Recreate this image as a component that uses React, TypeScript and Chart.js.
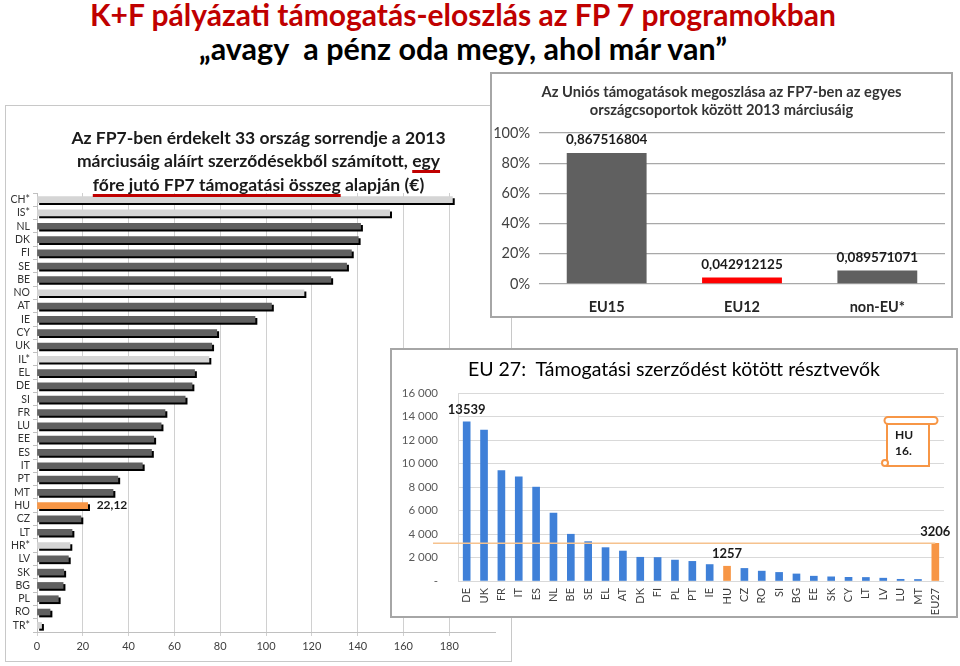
import React, { useEffect, useRef } from 'react';
import { Chart, registerables } from 'chart.js';

Chart.register(...registerables);

const FONT = 'Lato, Carlito, Calibri, "Noto Sans", sans-serif';

// ---- Slide texts ----
const slideTitle = 'K+F pályázati támogatás-eloszlás az FP 7 programokban';
const slideSubtitle = '„avagy  a pénz oda megy, ahol már van”';

// ---- Left chart: FP7 support per capita (€) ----
const perCapitaTitle1 = 'Az FP7-ben érdekelt 33 ország sorrendje a 2013';
const perCapitaTitle2a = 'márciusáig aláírt szerződésekből számított, ';
const perCapitaTitle2b = 'egy';
const perCapitaTitle3a = 'főre jutó FP7 támogatási összeg';
const perCapitaTitle3b = ' alapján (€)';
const perCapitaCountries = ['CH*', 'IS*', 'NL', 'DK', 'FI', 'SE', 'BE', 'NO', 'AT', 'IE', 'CY', 'UK', 'IL*', 'EL', 'DE', 'SI', 'FR', 'LU', 'EE', 'ES', 'IT', 'PT', 'MT', 'HU', 'CZ', 'LT', 'HR*', 'LV', 'SK', 'BG', 'PL', 'RO', 'TR*'];
const perCapitaValues = [181.4, 154.0, 141.3, 140.3, 137.3, 135.2, 128.3, 116.6, 102.4, 95.2, 78.5, 76.3, 75.1, 68.8, 67.7, 64.7, 55.9, 54.2, 51.0, 50.0, 46.0, 35.3, 33.2, 22.12, 19.2, 15.3, 14.4, 13.7, 11.7, 11.4, 9.3, 5.7, 2.0];
const nonEuCountries = ['CH*', 'IS*', 'NO', 'IL*', 'HR*', 'TR*'];
const highlightCountry = 'HU';
const perCapitaAxisMax = 200;
const perCapitaTickMax = 180;
const perCapitaStep = 20;

// ---- Top right chart: share by country group ----
const groupTitle1 = 'Az Uniós támogatások megoszlása az FP7-ben az egyes';
const groupTitle2 = 'országcsoportok között 2013 márciusáig';
const groupLabels = ['EU15', 'EU12', 'non-EU*'];
const groupShares = [0.867516804, 0.042912125, 0.089571071];

// ---- Bottom right chart: participants ----
const participantsTitle = 'EU 27:  Támogatási szerződést kötött résztvevők';
const participantCountries = ['DE', 'UK', 'FR', 'IT', 'ES', 'NL', 'BE', 'SE', 'EL', 'AT', 'DK', 'FI', 'PL', 'PT', 'IE', 'HU', 'CZ', 'RO', 'SI', 'BG', 'EE', 'SK', 'CY', 'LT', 'LV', 'LU', 'MT', 'EU27'];
const participantValues = [13539, 12850, 9390, 8870, 7990, 5780, 3980, 3350, 2840, 2550, 2020, 2000, 1780, 1670, 1400, 1257, 1070, 840, 730, 600, 410, 355, 315, 300, 240, 145, 130, 3206];
const participantAverageCategory = 'EU27';
const participantLabeled = ['DE', 'HU', 'EU27'];
const huRankText = ['HU', '16.'];

const ORANGE = '#f79646';
const DARK = '#606060';
const LIGHT = '#d5d5d5';

function fmtThousands(v: number): string {
  return String(v).replace(/\B(?=(\d{3})+(?!\d))/g, ' ');
}

const shadowPlugin = {
  id: 'barShadow',
  beforeDatasetsDraw(chart: any) {
    const c = chart.ctx;
    c.save();
    c.shadowColor = '#000000';
    c.shadowOffsetX = 2;
    c.shadowOffsetY = 2;
    c.shadowBlur = 0;
  },
  afterDatasetsDraw(chart: any) {
    chart.ctx.restore();
  },
};

const huLabelPlugin = {
  id: 'huLabel',
  afterDraw(chart: any) {
    const ctx = chart.ctx;
    const meta = chart.getDatasetMeta(0);
    const i = perCapitaCountries.indexOf(highlightCountry);
    const el = meta.data[i];
    ctx.save();
    ctx.font = `bold 12px ${FONT}`;
    ctx.fillStyle = '#1a1a1a';
    ctx.textAlign = 'left';
    ctx.textBaseline = 'middle';
    ctx.fillText(perCapitaValues[i].toFixed(2).replace('.', ','), el.x + 9, el.y);
    ctx.restore();
  },
};

const groupLabelPlugin = {
  id: 'groupLabels',
  afterDatasetsDraw(chart: any) {
    const ctx = chart.ctx;
    const meta = chart.getDatasetMeta(0);
    ctx.save();
    ctx.font = `bold 13.5px ${FONT}`;
    ctx.fillStyle = '#1a1a1a';
    ctx.textAlign = 'center';
    ctx.textBaseline = 'middle';
    meta.data.forEach((el: any, i: number) => {
      ctx.fillText(String(groupShares[i]).replace('.', ','), el.x, el.y - 13);
    });
    ctx.restore();
  },
};

const participantsPlugin = {
  id: 'participantsExtras',
  afterDatasetsDraw(chart: any) {
    const ctx = chart.ctx;
    const meta = chart.getDatasetMeta(0);
    const area = chart.chartArea;
    const yScale = chart.scales.y;
    // average line
    const avgIdx = participantCountries.indexOf(participantAverageCategory);
    const yAvg = yScale.getPixelForValue(participantValues[avgIdx]);
    ctx.save();
    ctx.strokeStyle = '#f6c28e';
    ctx.lineWidth = 1.5;
    ctx.beginPath();
    ctx.moveTo(area.left - 25, yAvg);
    ctx.lineTo(meta.data[avgIdx].x, yAvg);
    ctx.stroke();
    // value labels
    ctx.font = `bold 13px ${FONT}`;
    ctx.fillStyle = '#1a1a1a';
    ctx.textAlign = 'center';
    ctx.textBaseline = 'middle';
    participantLabeled.forEach((c) => {
      const i = participantCountries.indexOf(c);
      const el = meta.data[i];
      ctx.fillText(String(participantValues[i]), el.x, el.y - 12);
    });
    // scroll callout
    const r = area.right;
    const t = area.top;
    ctx.strokeStyle = ORANGE;
    ctx.fillStyle = '#ffffff';
    ctx.lineWidth = 2;
    ctx.beginPath();
    ctx.rect(r - 57, t + 28, 42, 45);
    ctx.fill();
    ctx.stroke();
    ctx.beginPath();
    ctx.moveTo(r - 56, t + 24);
    ctx.lineTo(r - 10, t + 24);
    ctx.arc(r - 10, t + 27.5, 3.5, -Math.PI / 2, Math.PI / 2);
    ctx.lineTo(r - 56, t + 31);
    ctx.arc(r - 56, t + 27.5, 3.5, Math.PI / 2, Math.PI * 1.5);
    ctx.closePath();
    ctx.fill();
    ctx.stroke();
    ctx.beginPath();
    ctx.arc(r - 59, t + 70, 3, 0, Math.PI * 2);
    ctx.fill();
    ctx.stroke();
    ctx.fillStyle = '#1a1a1a';
    ctx.font = `bold 12px ${FONT}`;
    ctx.textAlign = 'left';
    ctx.fillText(huRankText[0], r - 49, t + 42);
    ctx.fillText(huRankText[1], r - 49, t + 58);
    ctx.restore();
  },
};

function LeftChart() {
  const ref = useRef<HTMLCanvasElement>(null);
  useEffect(() => {
    const chart = new Chart(ref.current as HTMLCanvasElement, {
      type: 'bar',
      data: {
        labels: perCapitaCountries,
        datasets: [
          {
            data: perCapitaValues,
            backgroundColor: perCapitaCountries.map((c) =>
              c === highlightCountry ? ORANGE : nonEuCountries.includes(c) ? LIGHT : DARK
            ),
            barThickness: 6,
            borderWidth: 0,
          },
        ],
      },
      options: {
        indexAxis: 'y',
        responsive: false,
        animation: false,
        layout: { padding: { top: 87, right: 16, left: 0, bottom: 0 } },
        plugins: { legend: { display: false }, tooltip: { enabled: false }, title: { display: false } },
        scales: {
          x: {
            min: 0,
            max: perCapitaAxisMax,
            ticks: { stepSize: perCapitaStep, font: { family: FONT, size: 11 }, color: '#404040', padding: 4 },
            grid: { color: '#d0d0d0', tickLength: 4, lineWidth: 1 },
            border: { color: '#c0c0c0' },
            afterBuildTicks: (ax: any) => {
              ax.ticks = ax.ticks.filter((t: any) => t.value <= perCapitaTickMax);
            },
            afterFit: (s: any) => {
              s.height = 29;
            },
          } as any,
          y: {
            ticks: { font: { family: FONT, size: 10.5 }, color: '#333333', padding: 3, autoSkip: false },
            grid: { drawOnChartArea: false, tickLength: 4, offset: true, color: '#c0c0c0' },
            border: { color: '#c0c0c0' },
            afterFit: (s: any) => {
              s.width = 31;
            },
          } as any,
        },
      },
      plugins: [shadowPlugin, huLabelPlugin],
    } as any);
    return () => chart.destroy();
  }, []);
  return <canvas ref={ref} width={505} height={555} style={{ display: 'block' }} />;
}

function GroupChart() {
  const ref = useRef<HTMLCanvasElement>(null);
  useEffect(() => {
    const chart = new Chart(ref.current as HTMLCanvasElement, {
      type: 'bar',
      data: {
        labels: groupLabels,
        datasets: [
          {
            data: groupShares,
            backgroundColor: [DARK, '#ff0000', DARK],
            barPercentage: 0.59,
            categoryPercentage: 1,
            borderWidth: 0,
          },
        ],
      },
      options: {
        responsive: false,
        animation: false,
        layout: { padding: { top: 59, right: 6, left: 0, bottom: 0 } },
        plugins: { legend: { display: false }, tooltip: { enabled: false }, title: { display: false } },
        scales: {
          x: {
            grid: { display: false, drawTicks: false },
            border: { display: false },
            ticks: { font: { family: FONT, size: 14.5, weight: 'bold' }, color: '#262626', padding: 15 },
            afterFit: (s: any) => {
              s.height = 32;
            },
          } as any,
          y: {
            min: 0,
            max: 1,
            ticks: {
              stepSize: 0.2,
              callback: (v: any) => Math.round(Number(v) * 100) + '%',
              font: { family: FONT, size: 14.5 },
              color: '#404040',
              padding: 9,
            },
            grid: { color: '#a8a8a8', drawTicks: false, lineWidth: 1.3 },
            border: { display: false },
            afterFit: (s: any) => {
              s.width = 47;
            },
          } as any,
        },
      },
      plugins: [groupLabelPlugin],
    } as any);
    return () => chart.destroy();
  }, []);
  return <canvas ref={ref} width={459} height={242} style={{ display: 'block' }} />;
}

function ParticipantsChart() {
  const ref = useRef<HTMLCanvasElement>(null);
  useEffect(() => {
    const chart = new Chart(ref.current as HTMLCanvasElement, {
      type: 'bar',
      data: {
        labels: participantCountries,
        datasets: [
          {
            data: participantValues,
            backgroundColor: participantCountries.map((c) =>
              c === highlightCountry || c === participantAverageCategory ? ORANGE : '#3f80d8'
            ),
            barThickness: 7,
            borderWidth: 0,
          },
        ],
      },
      options: {
        responsive: false,
        animation: false,
        layout: { padding: { top: 43, right: 12, left: 0, bottom: 0 } },
        plugins: { legend: { display: false }, tooltip: { enabled: false }, title: { display: false } },
        scales: {
          x: {
            grid: { display: false, drawTicks: false },
            border: { display: false },
            ticks: {
              minRotation: 90,
              maxRotation: 90,
              autoSkip: false,
              font: { family: FONT, size: 11 },
              color: '#404040',
              padding: 7,
            },
            afterFit: (s: any) => {
              s.height = 35;
            },
          } as any,
          y: {
            min: 0,
            max: 16000,
            ticks: {
              stepSize: 2000,
              callback: (v: any) => (Number(v) === 0 ? '-' : fmtThousands(Number(v))),
              font: { family: FONT, size: 11.5 },
              color: '#595959',
              padding: 20,
            },
            grid: { color: '#d9d9d9', drawTicks: false },
            border: { color: '#d9d9d9' },
            afterFit: (s: any) => {
              s.width = 66;
            },
          } as any,
        },
      },
      plugins: [participantsPlugin],
    } as any);
    return () => chart.destroy();
  }, []);
  return <canvas ref={ref} width={564} height={266} style={{ display: 'block' }} />;
}

const underline: React.CSSProperties = {
  textDecoration: 'underline',
  textDecorationColor: '#c00000',
  textDecorationThickness: '3px',
  textUnderlineOffset: '3px',
  textDecorationSkipInk: 'none',
} as React.CSSProperties;

export default function App() {
  return (
    <div
      style={{
        position: 'fixed',
        left: 0,
        top: 0,
        width: 960,
        height: 666,
        background: '#ffffff',
        overflow: 'hidden',
        fontFamily: FONT,
      }}
    >
      {/* slide titles */}
      <div
        style={{
          position: 'absolute',
          left: 0,
          top: -4,
          width: 926,
          textAlign: 'center',
          fontSize: 30,
          lineHeight: '36px',
          fontWeight: 700,
          color: '#c00000',
          whiteSpace: 'pre',
        }}
      >
        {slideTitle}
      </div>
      <div
        style={{
          position: 'absolute',
          left: 0,
          top: 30,
          width: 926,
          textAlign: 'center',
          fontSize: 30.5,
          lineHeight: '36px',
          fontWeight: 700,
          color: '#000000',
          whiteSpace: 'pre',
        }}
      >
        {slideSubtitle}
      </div>

      {/* left chart */}
      <div
        style={{
          position: 'absolute',
          left: 5,
          top: 105,
          width: 507,
          height: 557,
          border: '1px solid #c8c8c8',
          boxSizing: 'border-box',
          background: '#ffffff',
        }}
      >
        <LeftChart />
      </div>
      <div
        style={{
          position: 'absolute',
          left: 5,
          top: 126,
          width: 507,
          textAlign: 'center',
          fontSize: 17.5,
          lineHeight: '23.3px',
          fontWeight: 700,
          color: '#1a1a1a',
          whiteSpace: 'pre',
        }}
      >
        <div>{perCapitaTitle1}</div>
        <div>
          {perCapitaTitle2a}
          <span style={underline}>{perCapitaTitle2b}</span>
        </div>
        <div>
          <span style={underline}>{perCapitaTitle3a}</span>
          {perCapitaTitle3b}
        </div>
      </div>

      {/* top right chart */}
      <div
        style={{
          position: 'absolute',
          left: 490,
          top: 72,
          width: 463,
          height: 246,
          border: '2px solid #a6a6a6',
          boxSizing: 'border-box',
          background: '#ffffff',
        }}
      >
        <GroupChart />
        <div
          style={{
            position: 'absolute',
            left: 0,
            top: 8,
            width: 459,
            textAlign: 'center',
            fontSize: 14.7,
            lineHeight: '18.3px',
            fontWeight: 700,
            color: '#333333',
            whiteSpace: 'pre',
          }}
        >
          <div>{groupTitle1}</div>
          <div>{groupTitle2}</div>
        </div>
      </div>

      {/* bottom right chart */}
      <div
        style={{
          position: 'absolute',
          left: 390,
          top: 348,
          width: 568,
          height: 270,
          border: '2px solid #a6a6a6',
          boxSizing: 'border-box',
          background: '#ffffff',
        }}
      >
        <ParticipantsChart />
        <div
          style={{
            position: 'absolute',
            left: 0,
            top: 7,
            width: 564,
            textAlign: 'center',
            fontSize: 19.5,
            lineHeight: '24px',
            fontWeight: 400,
            color: '#000000',
            whiteSpace: 'pre',
          }}
        >
          {participantsTitle}
        </div>
      </div>
    </div>
  );
}
